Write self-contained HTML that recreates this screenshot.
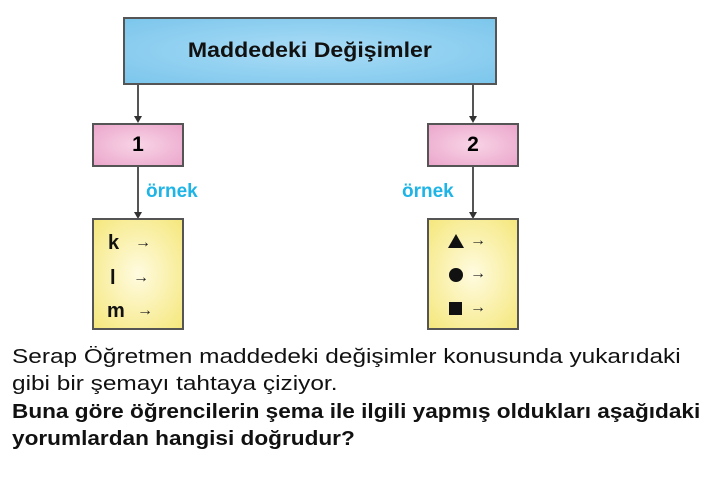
<!DOCTYPE html>
<html><head><meta charset="utf-8"><style>
body{margin:0;width:720px;height:483px;background:#fff;position:relative;overflow:hidden;font-family:"Liberation Sans",sans-serif}
.b{position:absolute;box-sizing:border-box;border:2px solid #555;}
.top{left:123px;top:17px;width:374px;height:68px;background:radial-gradient(ellipse at center,#a9dcf6,#7cc6ec);display:flex;align-items:center;justify-content:center;font-weight:bold;font-size:21px;color:#111}
.top span{display:inline-block;transform:scaleX(1.1)}
.p{top:123px;width:92px;height:44px;background:radial-gradient(ellipse at center,#f8d4e6,#eba6cb);display:flex;align-items:center;justify-content:center;font-weight:bold;font-size:21px}
.y{top:218px;width:92px;height:112px;background:radial-gradient(ellipse at center,#fffbe0,#f5e77c)}
.l{position:absolute;width:2px;background:#555}
.ah{position:absolute;width:0;height:0;border-left:4px solid transparent;border-right:4px solid transparent;border-top:7px solid #333}
.o{position:absolute;color:#1eb4e6;font-weight:bold;font-size:19px;top:181px}
.it{position:absolute;font-weight:bold;font-size:20px;color:#111}
.ar{position:absolute;font-size:16px;color:#222}
.t{position:absolute;left:12px;font-size:20px;color:#111;white-space:nowrap;transform-origin:0 0}
</style></head><body>
<div class="b top"><span>Maddedeki Değişimler</span></div>
<div class="l" style="left:137px;top:85px;height:32px"></div><div class="ah" style="left:134px;top:116px"></div>
<div class="l" style="left:472px;top:85px;height:32px"></div><div class="ah" style="left:469px;top:116px"></div>
<div class="b p" style="left:92px">1</div>
<div class="b p" style="left:427px">2</div>
<div class="l" style="left:137px;top:167px;height:46px"></div><div class="ah" style="left:134px;top:212px"></div>
<div class="l" style="left:472px;top:167px;height:46px"></div><div class="ah" style="left:469px;top:212px"></div>
<div class="o" style="left:146px">örnek</div>
<div class="o" style="left:402px">örnek</div>
<div class="b y" style="left:92px"></div>
<div class="b y" style="left:427px"></div>
<div class="it" style="left:108px;top:232px">k</div><div class="ar" style="left:135px;top:234px">→</div>
<div class="it" style="left:110px;top:267px">l</div><div class="ar" style="left:133px;top:269px">→</div>
<div class="it" style="left:107px;top:300px">m</div><div class="ar" style="left:137px;top:302px">→</div>
<div style="position:absolute;left:448px;top:234px;width:0;height:0;border-left:8px solid transparent;border-right:8px solid transparent;border-bottom:14px solid #111"></div><div class="ar" style="left:470px;top:232px">→</div>
<div style="position:absolute;left:449px;top:268px;width:14px;height:14px;border-radius:50%;background:#111"></div><div class="ar" style="left:470px;top:265px">→</div>
<div style="position:absolute;left:449px;top:302px;width:13px;height:13px;background:#111"></div><div class="ar" style="left:470px;top:299px">→</div>
<div class="t" style="top:346px;transform:scaleX(1.22)">Serap Öğretmen maddedeki değişimler konusunda yukarıdaki</div>
<div class="t" style="top:373px;transform:scaleX(1.22)">gibi bir şemayı tahtaya çiziyor.</div>
<div class="t" style="top:401px;font-weight:bold;transform:scaleX(1.13)">Buna göre öğrencilerin şema ile ilgili yapmış oldukları aşağıdaki</div>
<div class="t" style="top:428px;font-weight:bold;transform:scaleX(1.13)">yorumlardan hangisi doğrudur?</div>
</body></html>
